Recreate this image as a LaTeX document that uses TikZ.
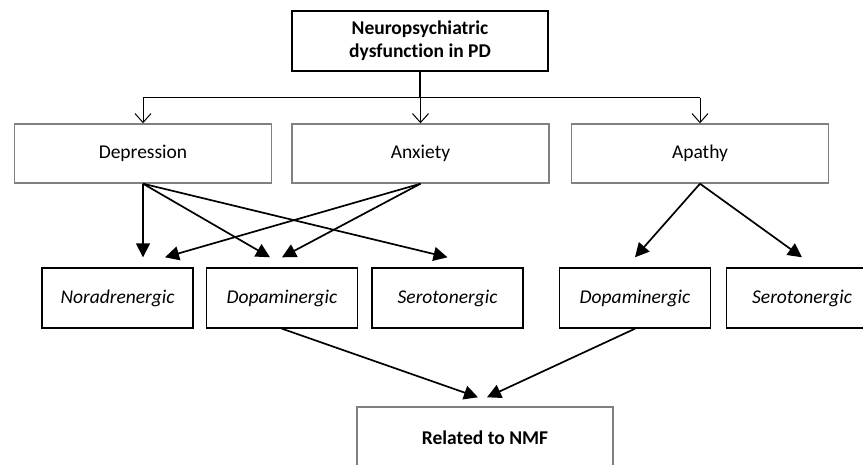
\documentclass[tikz,border=0pt]{standalone}
\usepackage{fontspec}
\setmainfont{Carlito}[Ligatures={NoCommon,NoRare}]
\usepackage{tikz}
\usetikzlibrary{arrows.meta}
\definecolor{ink}{HTML}{000000}
\definecolor{frame}{HTML}{808080}
\tikzset{
  headBox/.style={draw=ink, line width=1.4pt, minimum width=256pt, minimum height=60pt, inner sep=0pt, align=center, font=\fontsize{19.5}{23}\selectfont\bfseries},
  symBox/.style={draw=frame, line width=1.4pt, minimum width=257pt, minimum height=59pt, inner sep=0pt, font=\fontsize{19.5}{22}\selectfont},
  sysBox/.style={draw=ink, line width=1.4pt, minimum width=151pt, minimum height=60pt, inner sep=0pt, font=\fontsize{19.5}{22}\selectfont\itshape},
  nmfBox/.style={draw=frame, line width=1.4pt, minimum width=256pt, minimum height=62pt, inner sep=0pt, font=\fontsize{19.5}{22}\selectfont\bfseries},
  busLine/.style={draw=ink, line width=1.5pt},
  openArr/.style={draw=ink, line width=1pt, -{Straight Barb[length=9pt,width=16pt]}},
  solidArr/.style={draw=ink, line width=1.7pt, -{Triangle[length=14pt,width=14pt]}},
}

\begin{document}
\begin{tikzpicture}[x=1pt, y=-1pt]
  \useasboundingbox (0,0) rectangle (863,465);
  \clip (0,0) rectangle (863,465);

  \node[headBox] (head) at (420,41) {Neuropsychiatric\\dysfunction in PD};

  % symptoms
  \node[symBox] (dep) at (143,153.5) {Depression};
  \node[symBox] (anx) at (420.5,153.5) {Anxiety};
  \node[symBox] (apa) at (700,153.5) {Apathy};

  % transmitter systems
  \node[sysBox] (nor)  at (117.5,298) {Noradrenergic};
  \node[sysBox] (dop)  at (282,298)   {Dopaminergic};
  \node[sysBox] (ser)  at (447.5,298) {Serotonergic};
  \node[sysBox] (dopB) at (635,298)   {Dopaminergic};
  \node[sysBox] (serB) at (802,298)   {Serotonergic};

  \node[nmfBox] (nmf) at (485,438) {Related to NMF};

  \draw[busLine] (head.south) -- ++(0,26) coordinate (bus);
  \draw[busLine] (dep.north |- bus) -- (apa.north |- bus);
  \foreach \n in {dep,anx,apa}
    \draw[openArr] (\n.north |- bus) -- (\n.north);

  \draw[solidArr] (dep.south) -- ([xshift=25.5pt,yshift=10pt]nor.north);
  \draw[solidArr] (dep.south) -- ([xshift=-12pt,yshift=10pt]dop.north);
  \draw[solidArr] (dep.south) -- ([yshift=10pt]ser.north);
  \draw[solidArr] (anx.south) -- ([xshift=47.5pt,yshift=10pt]nor.north);
  \draw[solidArr] (anx.south) -- ([yshift=10pt]dop.north);
  \draw[solidArr] (apa.south) -- ([yshift=10pt]dopB.north);
  \draw[solidArr] (apa.south) -- ([yshift=10pt]serB.north);

  \draw[solidArr] (dop.south) -- ([xshift=-7pt,yshift=9pt]nmf.north);
  \draw[solidArr] (dopB.south) -- ([xshift=2pt,yshift=9pt]nmf.north);
\end{tikzpicture}
\end{document}
